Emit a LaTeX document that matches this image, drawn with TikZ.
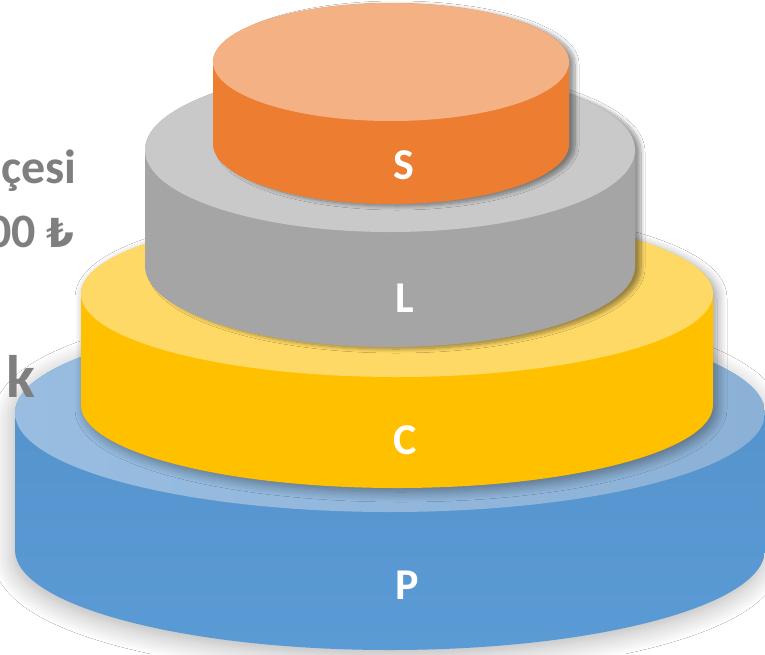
\documentclass[tikz,border=0pt]{standalone}
\usepackage{fontspec}
\setmainfont{Carlito}
\newfontfamily\symfont{DejaVu Sans}
\usetikzlibrary{shadows.blur}
\definecolor{oside}{HTML}{ED7D31}
\definecolor{otop}{HTML}{F4B183}
\definecolor{gside}{HTML}{A5A5A5}
\definecolor{gtop}{HTML}{C9C9C9}
\definecolor{yside}{HTML}{FFC000}
\definecolor{ytop}{HTML}{FFD966}
\definecolor{bside}{HTML}{5B9BD5}
\definecolor{bsidetop}{HTML}{5290C9}
\definecolor{btopl}{HTML}{98BDE1}
\definecolor{btopr}{HTML}{8CB1D6}
\definecolor{txtgray}{HTML}{7F7F7F}
% cx rx ytop ybot ryt ryb
\newcommand\cakesil[6]{(#1-#2,#3) -- (#1-#2,#4) arc[start angle=180,end angle=360,x radius=#2pt,y radius=#6pt] -- (#1+#2,#3) arc[start angle=0,end angle=180,x radius=#2pt,y radius=#5pt] -- cycle}
\tikzset{
  layershadow/.style={blur shadow={shadow xshift=6pt,shadow yshift=-2pt,shadow blur radius=4pt,shadow blur steps=10,shadow opacity=40}},
  yshadow/.style={blur shadow={shadow xshift=4pt,shadow yshift=-4pt,shadow blur radius=10pt,shadow blur steps=12,shadow opacity=40}},
  baseshadow/.style={blur shadow={shadow xshift=-2pt,shadow yshift=-6pt,shadow blur radius=20pt,shadow blur steps=14,shadow opacity=30}},
  layerlabel/.style={text=white,font=\bfseries\fontsize{44}{44}\selectfont,inner sep=0pt},
  sidetext/.style={text=txtgray,font=\bfseries\fontsize{48}{48}\selectfont,inner sep=0pt,anchor=base east},
}
\begin{document}
\begin{tikzpicture}[x=1pt,y=-1pt]
\useasboundingbox (0,0) rectangle (765,654);
\clip (0,0) rectangle (765,654);
\fill[white] (0,0) rectangle (765,654);
% P (blue)
\path[baseshadow,top color=bsidetop,bottom color=bside] \cakesil{390}{375}{413}{550}{99}{100};
\path[left color=btopl,right color=btopr] (390,413) ellipse[x radius=375pt,y radius=99pt];
% C (yellow)
\path[yshadow,fill=yside] \cakesil{397}{316}{294}{405}{83}{83};
\fill[ytop] (397,294) ellipse[x radius=316pt,y radius=83pt];
% L (gray)
\path[layershadow,fill=gside] \cakesil{390}{245}{150}{266}{82}{81};
\fill[gtop] (390,150) ellipse[x radius=245pt,y radius=82pt];
% S (orange)
\path[layershadow,fill=oside] \cakesil{391}{178}{62}{144}{59}{60};
\fill[otop] (391,62) ellipse[x radius=178pt,y radius=59pt];
% labels
\node[layerlabel] (labS) at (404,165) {S};
\node[layerlabel] (labL) at (405,298) {L};
\node[layerlabel] (labC) at (405,440) {C};
\node[layerlabel] (labP) at (407,585) {P};
% partial texts at left
\node[sidetext] (t1) at (77,183) {çesi};
\node[sidetext] (t2) at (75,247) {00 {\symfont\bfseries\fontsize{40}{40}\selectfont ₺}};
\node[sidetext,font=\bfseries\fontsize{60}{60}\selectfont] (t3) at (35,397) {k};
\end{tikzpicture}
\end{document}
